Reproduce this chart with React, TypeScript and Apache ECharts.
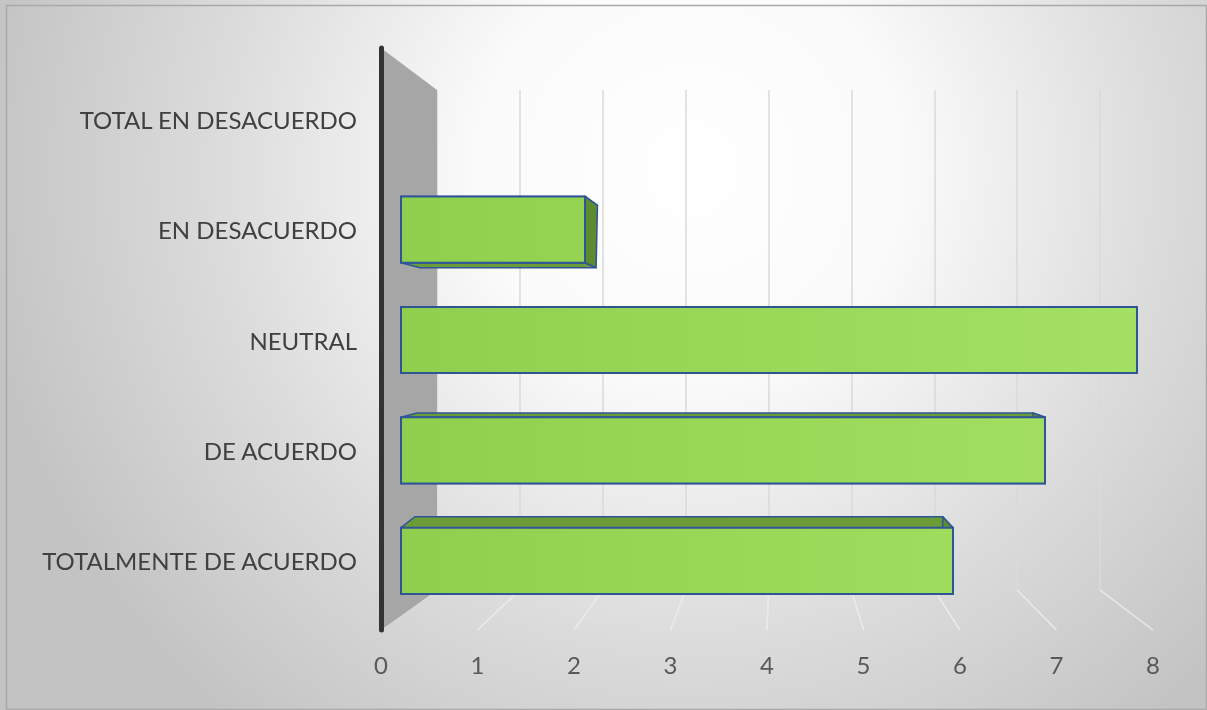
import React, { useEffect, useRef } from "react";
import * as echarts from "echarts";

// ---- data ----
const categories = [
  "TOTALMENTE DE ACUERDO",
  "DE ACUERDO",
  "NEUTRAL",
  "EN DESACUERDO",
  "TOTAL EN DESACUERDO",
];
const values = [6, 7, 8, 2, 0];
const axisMin = 0;
const axisMax = 8;
const axisStep = 1;
const tickValues = [0, 1, 2, 3, 4, 5, 6, 7, 8];

// ---- layout (pixels) ----
const W = 1207;
const H = 710;
const FRONT = { left: 381, right: 1153, top: 48, bottom: 630 };
const BACK = { left: 437, right: 1100, top: 90, bottom: 590 };
const BARS = { left: 401, right: 1137, top: 64, bottom: 616 };
// depth offset model of the 3D bars (back face relative to front face)
const KX = 0.0436;
const VPX = 722;
const KXY = 0.02;
const VPY0 = 520;
const KY = 0.06;
const VPY = 345;

const FONT = "Lato";

function back(p: number[]) {
  const [x, y] = p;
  return [x - KX * (x - VPX) - KXY * (y - VPY0), y - KY * (y - VPY)];
}

export default function App() {
  const ref = useRef<HTMLDivElement>(null);

  useEffect(() => {
    if (!ref.current) return;
    const chart = echarts.init(ref.current, undefined, { renderer: "svg" });

    const frontScale = (v: number) =>
      FRONT.left + ((v - axisMin) / (axisMax - axisMin)) * (FRONT.right - FRONT.left);

    const frontFill = new echarts.graphic.LinearGradient(
      BARS.left,
      0,
      BARS.right,
      0,
      [
        { offset: 0, color: "#90cf4e" },
        { offset: 1, color: "#a4e163" },
      ],
      true
    );

    const option: any = {
      animation: false,
      backgroundColor: new echarts.graphic.RadialGradient(
        690,
        170,
        720,
        [
          { offset: 0, color: "#ffffff" },
          { offset: 0.3, color: "#fafafa" },
          { offset: 0.65, color: "#dcdcdc" },
          { offset: 1, color: "#c3c3c3" },
        ],
        true
      ),
      graphic: [
        {
          type: "rect",
          shape: { x: 6.5, y: 5.5, width: W - 7, height: H - 6 },
          style: { fill: "none", stroke: "#a9a9a9", lineWidth: 1.5 },
          silent: true,
          z: 100,
        },
      ],
      grid: [
        {
          left: BARS.left,
          top: BARS.top,
          width: BARS.right - BARS.left,
          height: BARS.bottom - BARS.top,
        },
        {
          left: BACK.left,
          top: BACK.top,
          width: BACK.right - BACK.left,
          height: BACK.bottom - BACK.top,
        },
        {
          left: FRONT.left,
          top: FRONT.top,
          width: FRONT.right - FRONT.left,
          height: FRONT.bottom - FRONT.top,
        },
      ],
      xAxis: [
        { gridIndex: 0, type: "value", min: axisMin, max: axisMax, show: false },
        {
          gridIndex: 1,
          type: "value",
          min: axisMin,
          max: axisMax,
          interval: axisStep,
          axisLine: { show: false },
          axisTick: { show: false },
          axisLabel: { show: false },
          splitLine: { show: true, lineStyle: { color: "#dadada", width: 1.5 } },
        },
        {
          gridIndex: 2,
          type: "value",
          min: axisMin,
          max: axisMax,
          interval: axisStep,
          axisLine: { show: false },
          axisTick: { show: false },
          splitLine: { show: false },
          axisLabel: {
            margin: 22,
            color: "#595959",
            fontSize: 24,
            fontFamily: FONT,
          },
        },
      ],
      yAxis: [
        {
          gridIndex: 0,
          type: "category",
          data: categories,
          axisLine: { show: false },
          axisTick: { show: false },
          splitLine: { show: false },
          axisLabel: {
            margin: 44,
            color: "#404040",
            fontSize: 24,
            fontFamily: FONT,
          },
        },
        { gridIndex: 1, type: "value", min: 0, max: 1, show: false },
        {
          gridIndex: 2,
          type: "value",
          min: 0,
          max: 1,
          z: 10,
          axisLine: { show: true, lineStyle: { color: "#333333", width: 5 } },
          axisTick: { show: false },
          axisLabel: { show: false },
          splitLine: { show: false },
        },
      ],
      series: [
        {
          type: "custom",
          name: "wall",
          xAxisIndex: 1,
          yAxisIndex: 1,
          silent: true,
          z: 1,
          data: tickValues.map((t) => [t]),
          renderItem: (params: any, api: any) => {
            const v = api.value(0);
            const backBottom = api.coord([v, 0]);
            const backTop = api.coord([v, 1]);
            const fx = frontScale(v);
            if (v === axisMin) {
              return {
                type: "polygon",
                shape: {
                  points: [
                    [fx, FRONT.top],
                    backTop,
                    backBottom,
                    [fx, FRONT.bottom],
                  ],
                },
                style: { fill: "#a6a6a6", stroke: "none" },
              };
            }
            return {
              type: "line",
              shape: {
                x1: backBottom[0],
                y1: backBottom[1],
                x2: fx,
                y2: FRONT.bottom,
              },
              style: { stroke: "#ebebeb", lineWidth: 1.5 },
            };
          },
        },
        {
          type: "custom",
          name: "bars",
          xAxisIndex: 0,
          yAxisIndex: 0,
          z: 5,
          data: values.map((v, i) => [v, i]),
          renderItem: (params: any, api: any) => {
            const v = api.value(0);
            const idx = api.value(1);
            if (!v) return { type: "group", children: [] };
            const s = api.coord([0, idx]);
            const e = api.coord([v, idx]);
            const h = api.size([0, 1])[1] * 0.6;
            const x0 = s[0];
            const x1 = e[0];
            const y0 = s[1] - h / 2;
            const y1 = s[1] + h / 2;
            const b00 = back([x0, y0]);
            const b10 = back([x1, y0]);
            const b11 = back([x1, y1]);
            const b01 = back([x0, y1]);
            const edge = "#2f5597";
            const side = { fill: "#6c9c38", stroke: edge, lineWidth: 1.5, lineJoin: "round" };
            const right = { fill: "#5c8c2f", stroke: edge, lineWidth: 1.5, lineJoin: "round" };
            return {
              type: "group",
              children: [
                {
                  type: "polygon",
                  shape: { points: [[x0, y0], [x1, y0], b10, b00] },
                  style: side,
                },
                {
                  type: "polygon",
                  shape: { points: [[x0, y1], [x1, y1], b11, b01] },
                  style: side,
                },
                {
                  type: "polygon",
                  shape: { points: [[x1, y0], b10, b11, [x1, y1]] },
                  style: right,
                },
                {
                  type: "rect",
                  shape: { x: x0, y: y0, width: x1 - x0, height: y1 - y0 },
                  style: {
                    fill: frontFill,
                    stroke: edge,
                    lineWidth: 2,
                  },
                },
              ],
            };
          },
        },
      ],
    };

    chart.setOption(option);
    return () => chart.dispose();
  }, []);

  return (
    <div
      ref={ref}
      style={{ position: "fixed", left: 0, top: 0, width: W, height: H }}
    />
  );
}
